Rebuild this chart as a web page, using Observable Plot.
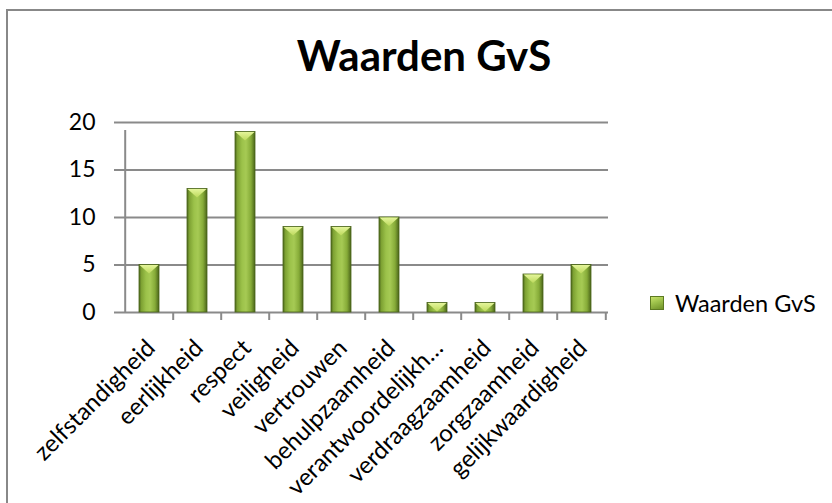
<!DOCTYPE html>
<html>
<head>
<meta charset="utf-8">
<script src="https://cdn.jsdelivr.net/npm/d3@7"></script>
<script src="https://cdn.jsdelivr.net/npm/@observablehq/plot@0.6"></script>
<style>
  html, body { margin: 0; padding: 0; background: #fff; }
  #wrap { position: relative; width: 832px; height: 503px; overflow: hidden; background: #fff; font-family: Lato, "Open Sans", sans-serif; }
  #border { position: absolute; left: 6px; top: 9px; width: 840px; height: 520px; border-left: 2px solid #888; border-top: 2px solid #888; box-sizing: border-box; }
  #chart { position: absolute; left: 0; top: 0; }
  #title { position: absolute; left: 0; width: 848px; top: 34px; text-align: center; font-weight: 700; font-size: 42px; line-height: 42px; color: #000; }
  #legend { position: absolute; left: 650px; top: 290px; display: flex; align-items: center; font-size: 23.5px; line-height: 26px; color: #000; }
  #legend .sw { width: 14px; height: 14px; margin-right: 11px; background: linear-gradient(160deg, #c8e26a 0%, #9cc04a 45%, #6f9128 100%); border: 1px solid #5d7a22; box-sizing: border-box; }
</style>
</head>
<body>
<div id="wrap">
  <div id="border"></div>
  <div id="chart"></div>
  <div id="title">Waarden GvS</div>
  <div id="legend"><span class="sw"></span><span>Waarden GvS</span></div>
</div>
<script>
const categories = ["zelfstandigheid", "eerlijkheid", "respect", "veiligheid", "vertrouwen", "behulpzaamheid", "verantwoordelijkh…", "verdraagzaamheid", "zorgzaamheid", "gelijkwaardigheid"];
const values = [5, 13, 19, 9, 9, 10, 1, 1, 4, 5];
const yTicks = [0, 5, 10, 15, 20];
const seriesName = "Waarden GvS";

const data = categories.map((name, i) => ({name, value: values[i]}));

const W = 832, H = 503;
const mL = 122, mR = 224, mT = 122, mB = 191;
const step = (W - mL - mR) / categories.length;
const grid = "#8a8a8a";

const chart = Plot.plot({
  width: W,
  height: H,
  marginLeft: mL,
  marginRight: mR,
  marginTop: mT,
  marginBottom: mB,
  style: {fontFamily: "Lato, 'Open Sans', sans-serif", color: "#000", background: "transparent"},
  x: {domain: categories, paddingInner: 0.59, paddingOuter: 0.295, axis: null},
  y: {domain: [0, 20], axis: null},
  marks: [
    Plot.ruleY(yTicks, {stroke: grid, strokeWidth: 2}),
    Plot.ruleX(categories, {x: d => d, y1: 0, y2: (d, i) => i === 0 ? 20 : 0, dx: -step / 2, insetBottom: -8, stroke: grid, strokeWidth: 2}),
    Plot.ruleX([categories[categories.length - 1]], {x: d => d, y1: 0, y2: 0, dx: step / 2, insetBottom: -8, stroke: grid, strokeWidth: 2}),
    Plot.axisY({ticks: yTicks, label: null, tickSize: 8, tickPadding: 19, fontSize: 23, stroke: grid, strokeWidth: 2, strokeOpacity: 1}),
    Plot.barY(data, {x: "name", y: "value", fill: "url(#barGrad)", stroke: "#4a641b", strokeWidth: 0.8}),
    Plot.text(categories, {x: d => d, frameAnchor: "bottom", text: d => d, rotate: -45, textAnchor: "end", dx: 7, dy: 37, fontSize: 24, fill: "#000"})
  ]
});

const svg = d3.select(chart);
const defs = svg.insert("defs", ":first-child");
const g = defs.append("linearGradient").attr("id", "barGrad").attr("x1", 0).attr("x2", 1).attr("y1", 0).attr("y2", 0);
[[0, "#4d681c"], [0.12, "#7ea233"], [0.35, "#9cc24a"], [0.55, "#a6ca54"], [0.8, "#86ab38"], [1, "#4a6419"]].forEach(([o, c]) => g.append("stop").attr("offset", o).attr("stop-color", c));
const gt = defs.append("linearGradient").attr("id", "topGrad").attr("x1", 0).attr("x2", 0).attr("y1", 0).attr("y2", 1);
[[0, "#e4f59a"], [1, "#bcd95c"]].forEach(([o, c]) => gt.append("stop").attr("offset", o).attr("stop-color", c));

// bevel chevron on top of each bar, derived from the bars Plot drew
const bevel = svg.append("g");
svg.selectAll("g[aria-label='bar'] rect").each(function() {
  const r = d3.select(this);
  const x = +r.attr("x"), y = +r.attr("y"), w = +r.attr("width"), h = +r.attr("height");
  const d = Math.min(9, h);
  bevel.append("polygon")
    .attr("points", `${x + 0.5},${y + 0.5} ${x + w - 0.5},${y + 0.5} ${x + w / 2},${y + d}`)
    .attr("fill", "url(#topGrad)");
});
// keep labels on top
svg.select("g[aria-label='text']").raise();

document.getElementById("chart").appendChild(chart);
</script>
</body>
</html>
